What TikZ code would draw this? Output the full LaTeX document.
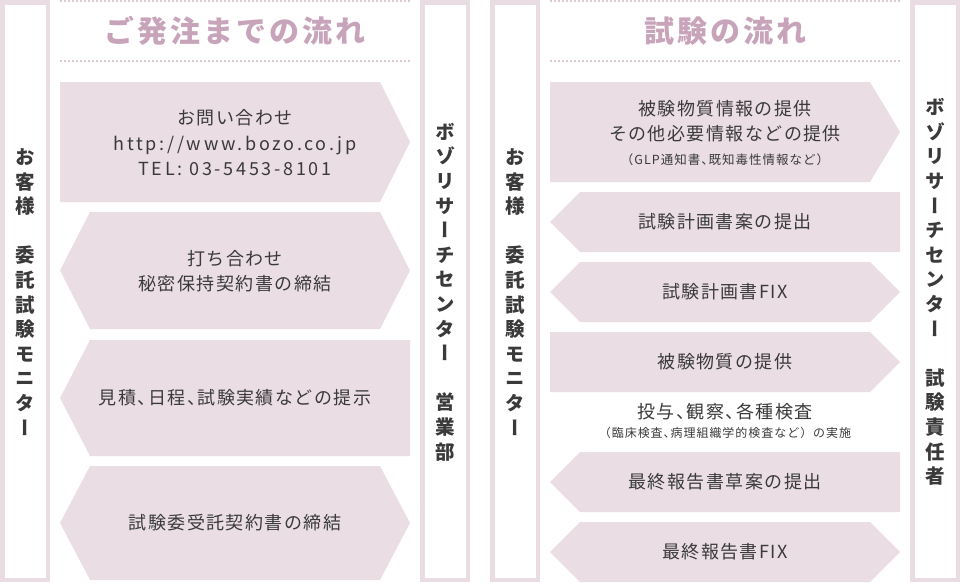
\documentclass[tikz,border=0pt]{standalone}
\usepackage{fontspec}
\setmainfont{Noto Sans CJK JP}
\newfontfamily\boxfont{Noto Sans CJK JP}[LetterSpace=8]
\newfontfamily\urlfont{Noto Sans CJK JP}[LetterSpace=15]
\newfontfamily\titlefont{Noto Sans CJK JP}[LetterSpace=10]
\newfontfamily\vfont{Noto Sans CJK JP}[RawFeature=+vert]
\definecolor{framepink}{HTML}{E9DCE3}
\definecolor{boxpink}{HTML}{EADDE4}
\definecolor{titlepink}{HTML}{C8A4BA}
\definecolor{dotpink}{HTML}{DCC8D4}
\definecolor{textgray}{HTML}{3A3A3A}
\newcommand{\tenk}{、\kern-0.42em}

\begin{document}
\begin{tikzpicture}
	[x=1pt,y=-1pt,
	frame/.style={draw=framepink,line width=4.5pt},
	dotline/.style={draw=dotpink,line width=1.5pt,dash pattern=on 1.5pt off 2.5pt},
	title/.style={text=titlepink,font=\titlefont\bfseries\fontsize{30}{32}\selectfont},
	vlabel/.style={text=textgray,align=center,inner sep=0pt,font=\vfont\bfseries\fontsize{19.5}{24.6}\selectfont},
	boxtext/.style={text=textgray,align=center,inner sep=0pt,font=\boxfont\fontsize{18}{25.5}\selectfont}]
	\useasboundingbox (0,0) rectangle (960,582);
	% side frames
	\foreach \x in {2.25,422.25,492.25,912.25}
		\draw[frame] (\x,2.25) rectangle ++(45.5,577.5);
	% dotted rules
	\foreach \a/\b in {60/410,550/900}
		\foreach \y in {1,61}
			\draw[dotline] (\a,\y) -- (\b,\y);
	% arrow boxes: left/right/top/bottom/left point/right point
	\foreach \l/\r/\t/\b/\pl/\pr in {60/410/82/202/0/30,60/410/212/329/30/30,60/410/340/456/30/0,60/410/466/580/30/30,
		550/900/82/182/0/30,550/900/192/252/30/0,550/900/262/322/30/30,550/900/332/392/0/30,550/900/452/512/30/0,550/900/522/582/30/30}
		\fill[boxpink] (\l+\pl,\t) -- (\r-\pr,\t) -- (\r,{(\t+\b)/2}) -- (\r-\pr,\b) -- (\l+\pl,\b) -- (\l,{(\t+\b)/2}) -- cycle;

	\node[title] (ordertitle) at (235,31) {ご発注までの流れ};
	\node[title] (testtitle) at (725,31) {試験の流れ};

	\node[vlabel] (client1) at (25,292) {お\\客\\様\\[24.6pt]委\\託\\試\\験\\モ\\ニ\\タ\\ー};
	\node[vlabel] (sales) at (445,292) {ボ\\ゾ\\リ\\サ\\ー\\チ\\セ\\ン\\タ\\ー\\[24.6pt]営\\業\\部};
	\node[vlabel] (client2) at (515,292) {お\\客\\様\\[24.6pt]委\\託\\試\\験\\モ\\ニ\\タ\\ー};
	\node[vlabel] (director) at (935,292) {ボ\\ゾ\\リ\\サ\\ー\\チ\\セ\\ン\\タ\\ー\\[24.6pt]試\\験\\責\\任\\者};

	% ordering flow
	\node[boxtext] (inquiry) at (235,143) {お問い合わせ\\{\urlfont http://www.bozo.co.jp}\\{\urlfont TEL: 03-5453-8101}};
	\node[boxtext] (meeting) at (235,271) {打ち合わせ\\秘密保持契約書の締結};
	\node[boxtext] (estimate) at (235,398) {見積\tenk 日程\tenk 試験実績などの提示};
	\node[boxtext] (contract) at (235,523) {試験委受託契約書の締結};

	% test flow
	\node[boxtext] (info) at (725,133) {被験物質情報の提供\\その他必要情報などの提供\\[-2pt]{\fontsize{12.5}{14}\selectfont （GLP通知書\tenk 既知毒性情報など）}};
	\node[boxtext] (plan) at (725,222) {試験計画書案の提出};
	\node[boxtext] (planfix) at (725,292) {試験計画書FIX};
	\node[boxtext] (supply) at (725,362) {被験物質の提供};
	\node[boxtext] (dosing) at (725,421) {投与\tenk 観察\tenk 各種検査\\[-7pt]{\fontsize{12}{14}\selectfont （臨床検査\tenk 病理組織学的検査など）の実施}};
	\node[boxtext] (draft) at (725,482) {最終報告書草案の提出};
	\node[boxtext] (final) at (725,552) {最終報告書FIX};
\end{tikzpicture}
\end{document}
